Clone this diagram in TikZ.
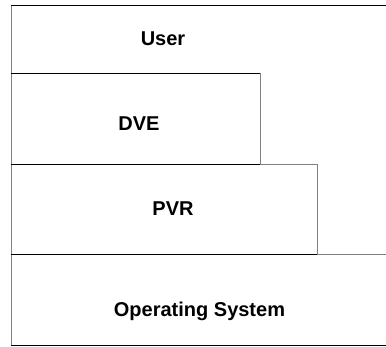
\documentclass[tikz,border=0pt]{standalone}
\usepackage{fontspec}
\setmainfont{Liberation Sans}
\begin{document}
\begin{tikzpicture}[x=1pt,y=-1pt,
  edge/.style={line width=1pt,black},
  side/.style={line width=1pt,gray},
  layer/.style={font=\fontsize{20}{23}\selectfont\bfseries,inner sep=0pt,anchor=base}]
\useasboundingbox (0,0) rectangle (386,346);
% layer boundaries
\draw[side] (11,5) -- (11,345);
\draw[edge] (11,5) -- (386,5);
\draw[edge] (11,73) -- (260,73);
\draw[side] (260,73) -- (260,164);
\draw[edge] (11,164) -- (260,164);
\draw[side] (260,164) -- (317,164);
\draw[side] (317,164) -- (317,254);
\draw[edge] (11,254) -- (317,254);
\draw[side] (317,254) -- (386,254);
\draw[edge] (11,345) -- (386,345);
% layer names
\node[layer] (user) at (163,45) {User};
\node[layer] (dve) at (139,130.5) {DVE};
\node[layer] (pvr) at (173,215) {PVR};
\node[layer] (os) at (199.5,316.5) {Operating System};
\end{tikzpicture}
\end{document}
